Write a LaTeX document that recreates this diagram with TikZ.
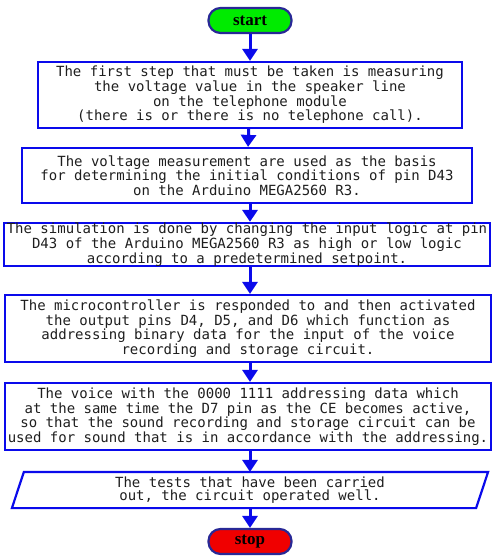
\documentclass[tikz,border=0pt]{standalone}
\usepackage{fontspec}
\setmonofont{DejaVu Sans Mono}
\newfontfamily\termfont{Liberation Serif}
\usetikzlibrary{arrows.meta}
\definecolor{boxblue}{RGB}{10,10,235}
\definecolor{termedge}{RGB}{40,40,150}
\definecolor{startgreen}{RGB}{0,235,0}
\definecolor{stopred}{RGB}{240,0,0}
\definecolor{txt}{RGB}{30,30,30}
\tikzset{
  procbox/.style={draw=boxblue, line width=2.2pt, align=center, inner sep=0pt, text=txt,
    font=\ttfamily\fontsize{14}{13.4}\selectfont},
  termbox/.style={draw=termedge, line width=2.2pt, rounded corners=12pt, inner sep=0pt,
    font=\termfont\bfseries\fontsize{17}{17}\selectfont, minimum width=83pt, minimum height=25pt},
  arr/.style={draw=boxblue, line width=3pt, -{Triangle[length=12pt,width=15pt]}}
}
\begin{document}
\begin{tikzpicture}[x=1pt,y=-1pt]
\useasboundingbox (0,0) rectangle (492,558);
\node[termbox, fill=startgreen] (start) at (250,20.5) {start};
\node[procbox, minimum width=424pt, minimum height=66pt] (b1) at (250,95)
 {The first step that must be taken is measuring\\the voltage value in the speaker line\\on the telephone module\\(there is or there is no telephone call).};
\node[procbox, minimum width=450pt, minimum height=55pt] (b2) at (247,175.5)
 {The voltage measurement are used as the basis\\for determining the initial conditions of pin D43\\on the Arduino MEGA2560 R3.};
\node[procbox, minimum width=486pt, minimum height=43pt] (b3) at (247,244.5)
 {The simulation is done by changing the input logic at pin\\D43 of the Arduino MEGA2560 R3 as high or low logic\\according to a predetermined setpoint.};
\node[procbox, minimum width=486pt, minimum height=67pt] (b4) at (248,328.5)
 {The microcontroller is responded to and then activated\\the output pins D4, D5, and D6 which function as\\addressing binary data for the input of the voice\\recording and storage circuit.};
\node[procbox, minimum width=486pt, minimum height=67pt] (b5) at (248,416.5)
 {The voice with the 0000 1111 addressing data which\\at the same time the D7 pin as the CE becomes active,\\so that the sound recording and storage circuit can be\\used for sound that is in accordance with the addressing.};
\node[procbox, draw=none, minimum width=474pt, minimum height=34pt] (p) at (250,490)
 {The tests that have been carried\\out, the circuit operated well.};
\draw[draw=boxblue, line width=2.2pt, line join=miter]
 ([xshift=12pt]p.north west) -- (p.north east) -- ([xshift=-12pt]p.south east) -- (p.south west) -- cycle;
\node[termbox, fill=stopred] (stop) at (250,541.5) {stop};
\draw[arr] (start) -- (b1);
\draw[arr] (b1) -- (b2);
\draw[arr] (b2.south -| b1.south) -- (b3.north -| b1.south);
\draw[arr] (b3.south -| b1.south) -- (b4.north -| b1.south);
\draw[arr] (b4.south -| b1.south) -- (b5.north -| b1.south);
\draw[arr] (b5.south -| b1.south) -- (p.north -| b1.south);
\draw[arr] (p) -- (stop);
\end{tikzpicture}
\end{document}
